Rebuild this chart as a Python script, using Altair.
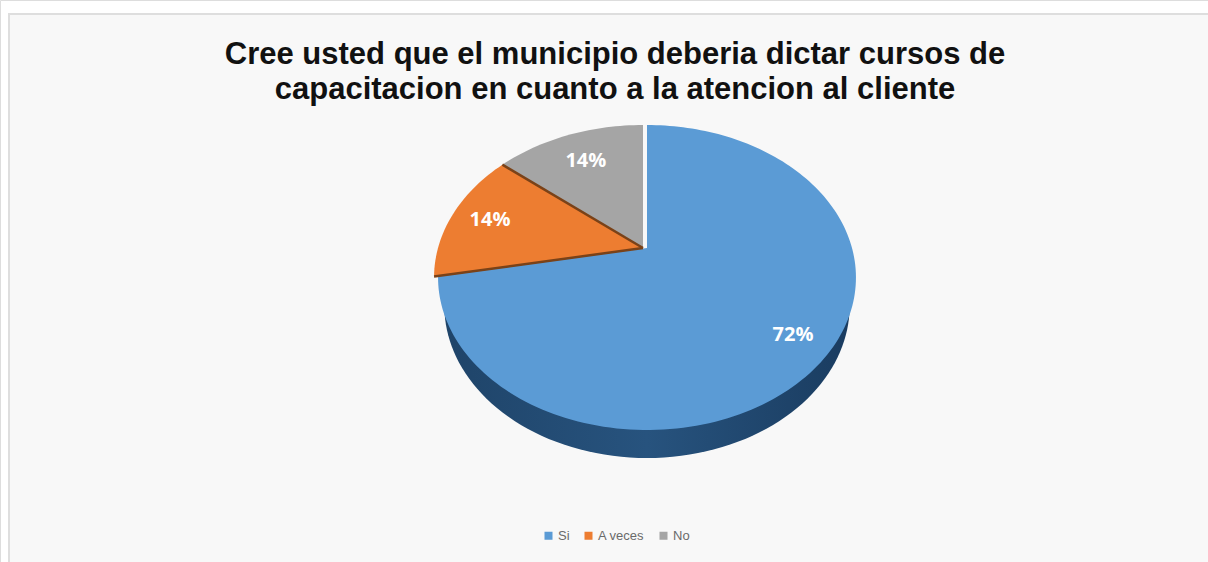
import math
import altair as alt
import pandas as pd

# Survey answers
categorias = ["Si", "A veces", "No"]
porcentajes = [72, 14, 14]
colores = ["#5b9bd5", "#ed7d31", "#a5a5a5"]
lineas_titulo = [
    "Cree usted que el municipio deberia dictar cursos de",
    "capacitacion en cuanto a la atencion al cliente",
]

# Tilted-disc geometry, in pixels of the drawing area
W, H = 1208, 562
CX, CY = 645, 248
RX, RY, TILT = 205, 146.8, 0.1935
DEPTH = 28
ESTRECHO_PARED = 0.97
DESPLAZAMIENTO = {"Si": 2, "A veces": -2, "No": -2}
RADIO_ETIQUETA = {"Si": 0.83, "A veces": 0.8, "No": 0.74}


def proyecta(theta_deg, r=1.0):
    """Clockwise angle from 12 o'clock to a point on the tilted disc."""
    t = math.radians(theta_deg)
    u, v = r * math.sin(t), r * math.cos(t)
    d = 1 + TILT * v
    return CX + RX * u / d, CY - RY * v / d


# Cumulative angular extent of every slice
angulos = []
acum = 0.0
total = sum(porcentajes)
for p in porcentajes:
    angulos.append((acum, acum + 360 * p / total))
    acum += 360 * p / total

filas, etiquetas, bordes = [], [], []
for cat, pct, (a0, a1) in zip(categorias, porcentajes, angulos):
    dx = DESPLAZAMIENTO[cat]
    px, py = proyecta(a0, 0)
    filas.append({"categoria": cat, "orden": 0, "x": px + dx, "y": py})
    n = max(8, int((a1 - a0) / 1.5))
    for i in range(n + 1):
        x, y = proyecta(a0 + (a1 - a0) * i / n)
        filas.append({"categoria": cat, "orden": i + 1, "x": x + dx, "y": y})
    lx, ly = proyecta((a0 + a1) / 2, RADIO_ETIQUETA[cat])
    etiquetas.append({"x": lx + dx, "y": ly, "texto": f"{pct}%"})

# Dark seams on both straight edges of the middle slice
a0, a1 = angulos[1]
dx = DESPLAZAMIENTO[categorias[1]]
for k, ang in enumerate((a0, a1)):
    for j, r in enumerate((0, 1)):
        x, y = proyecta(ang, r)
        bordes.append({"seam": k, "orden": j, "x": x + dx, "y": y})

# Near half of a lower disc seen under the face: same outline, pushed down and narrower
pared = []
dx = DESPLAZAMIENTO[categorias[0]]
for i in range(101):
    x, y = proyecta(80 + i * 2)
    pared.append({"orden": i, "x": CX + (x - CX) * ESTRECHO_PARED + dx, "y": y + DEPTH})

esc_x = alt.Scale(domain=[0, W], range=[0, W], nice=False, zero=False)
esc_y = alt.Scale(domain=[0, H], range=[0, H], nice=False, zero=False)
X = alt.X("x:Q", scale=esc_x, axis=None)
Y = alt.Y("y:Q", scale=esc_y, axis=None)

panel = (
    alt.Chart(pd.DataFrame({"a": [0]}))
    .mark_rect(fill="#f8f8f8", stroke="#dedede", strokeWidth=2)
    .encode(x=alt.value(9), x2=alt.value(W + 4), y=alt.value(14), y2=alt.value(H + 4))
)

lateral = (
    alt.Chart(pd.DataFrame(pared))
    .mark_line(
        interpolate="linear-closed",
        strokeWidth=0,
        fill=alt.Gradient(
            gradient="linear",
            x1=0, x2=1, y1=0, y2=0,
            stops=[
                alt.GradientStop(color="#1f4469", offset=0),
                alt.GradientStop(color="#27537e", offset=0.5),
                alt.GradientStop(color="#1a3c60", offset=1),
            ],
        ),
    )
    .encode(x=X, y=Y, order="orden:Q")
)

porciones = (
    alt.Chart(pd.DataFrame(filas))
    .mark_line(interpolate="linear-closed", strokeWidth=0, filled=True)
    .encode(
        x=X,
        y=Y,
        order="orden:Q",
        fill=alt.Fill(
            "categoria:N",
            scale=alt.Scale(domain=categorias, range=colores),
            sort=categorias,
            legend=alt.Legend(
                title=None,
                orient="none",
                legendX=542,
                legendY=529,
                direction="horizontal",
                symbolType="square",
                symbolSize=64,
                symbolStrokeWidth=0,
                labelFont="Liberation Sans",
                labelFontSize=13,
                labelColor="#6a6a6a",
                columnPadding=12,
                labelOffset=3,
            ),
        ),
    )
)

costuras = (
    alt.Chart(pd.DataFrame(bordes))
    .mark_line(color="#7a4218", strokeWidth=2.5)
    .encode(x=X, y=Y, detail="seam:N", order="orden:Q")
)

textos = (
    alt.Chart(pd.DataFrame(etiquetas))
    .mark_text(font="Open Sans", fontWeight="bold", fontSize=20, color="white", baseline="middle")
    .encode(x=X, y=Y, text="texto:N")
)

titulo = (
    alt.Chart(pd.DataFrame({"t": lineas_titulo, "y": [55, 90], "x": [615, 615]}))
    .mark_text(font="Liberation Sans", fontWeight="bold", fontSize=31, color="#111111", baseline="middle")
    .encode(x=X, y=Y, text="t:N")
)

chart = (
    alt.layer(panel, lateral, porciones, costuras, textos, titulo)
    .properties(width=W, height=H, padding=0, background="white")
    .configure_view(stroke="transparent", strokeWidth=0)
    .configure(autosize=alt.AutoSizeParams(type="none"))
)

chart.save("out.html", embed_options={"renderer": "svg", "actions": False})
